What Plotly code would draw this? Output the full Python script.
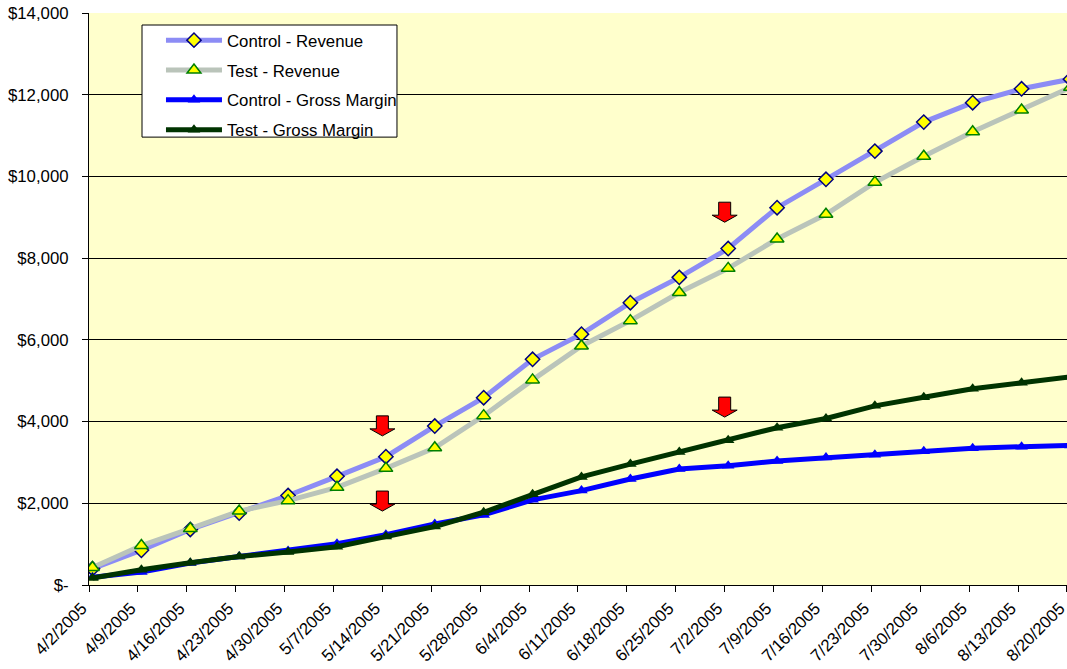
import pandas as pd
import plotly.graph_objects as go

dates = ["2005-04-02", "2005-04-09", "2005-04-16", "2005-04-23", "2005-04-30",
         "2005-05-07", "2005-05-14", "2005-05-21", "2005-05-28", "2005-06-04",
         "2005-06-11", "2005-06-18", "2005-06-25", "2005-07-02", "2005-07-09",
         "2005-07-16", "2005-07-23", "2005-07-30", "2005-08-06", "2005-08-13",
         "2005-08-20"]
date_labels = ["4/2/2005", "4/9/2005", "4/16/2005", "4/23/2005", "4/30/2005",
               "5/7/2005", "5/14/2005", "5/21/2005", "5/28/2005", "6/4/2005",
               "6/11/2005", "6/18/2005", "6/25/2005", "7/2/2005", "7/9/2005",
               "7/16/2005", "7/23/2005", "7/30/2005", "8/6/2005", "8/13/2005",
               "8/20/2005"]

control_revenue = [400, 850, 1360, 1760, 2190, 2660, 3140, 3890, 4585, 5525,
                   6140, 6910, 7530, 8235, 9235, 9930, 10620, 11330, 11805, 12145, 12380]
test_revenue = [430, 965, 1380, 1810, 2065, 2390, 2855, 3360, 4145, 5020,
                5850, 6470, 7160, 7750, 8470, 9075, 9855, 10495, 11095, 11625, 12180]
control_gm = [190, 320, 540, 700, 830, 1010, 1230, 1495, 1715, 2085,
              2310, 2595, 2840, 2920, 3035, 3120, 3190, 3275, 3345, 3385, 3415]
test_gm = [170, 375, 545, 695, 805, 935, 1185, 1430, 1780, 2220,
           2645, 2960, 3255, 3540, 3850, 4075, 4385, 4595, 4805, 4950, 5095]

y_ticks = [0, 2000, 4000, 6000, 8000, 10000, 12000, 14000]
y_labels = ["$-", "$2,000", "$4,000", "$6,000", "$8,000", "$10,000", "$12,000", "$14,000"]

arrow_dates = ["2005-05-14", "2005-05-14", "2005-07-02", "2005-07-02"]
arrow_tips = [3650, 1810, 8880, 4110]

x = pd.to_datetime(dates)
half_day = pd.Timedelta(hours=12)
tick_pos = x - half_day

FONT = "Liberation Sans, Arial, sans-serif"

fig = go.Figure()
fig.add_trace(go.Scatter(
    x=x, y=control_revenue, name="Control - Revenue", mode="lines+markers",
    line=dict(color="#8C8CF5", width=5),
    marker=dict(symbol="diamond", size=11, color="#FFFF00",
                line=dict(color="#000080", width=1.5)),
    legendgroup="a"))
fig.add_trace(go.Scatter(
    x=x, y=test_revenue, name="Test - Revenue", mode="lines+markers",
    line=dict(color="#BAC4BA", width=5),
    marker=dict(symbol="triangle-up", size=12, color="#FFFF00",
                line=dict(color="#008000", width=1.5)),
    legendgroup="b"))
fig.add_trace(go.Scatter(
    x=x, y=control_gm, name="Control - Gross Margin", mode="lines+markers",
    line=dict(color="#0000FF", width=5),
    marker=dict(symbol="triangle-up", size=11, color="#0000FF"),
    legendgroup="c"))
fig.add_trace(go.Scatter(
    x=x, y=test_gm, name="Test - Gross Margin", mode="lines+markers",
    line=dict(color="#003300", width=5),
    marker=dict(symbol="triangle-up", size=11, color="#003300"),
    legendgroup="d"))

shapes = []
for d, tip in zip(arrow_dates, arrow_tips):
    anchor = (pd.Timestamp(d) - half_day).strftime("%Y-%m-%d %H:%M:%S")
    shapes.append(dict(
        type="path", xref="x", yref="y", xsizemode="pixel", ysizemode="pixel",
        xanchor=anchor, yanchor=tip,
        path="M0,0 L-12.5,7 L-6,7 L-6,20 L6,20 L6,7 L12.5,7 Z",
        fillcolor="#FF0000", line=dict(color="#000000", width=1), layer="above"))

# legend frame (white box with black border)
shapes.append(dict(type="rect", xref="paper", yref="paper",
                   x0=0.0542, x1=0.3149, y0=0.783, y1=0.979,
                   fillcolor="white", line=dict(color="black", width=1),
                   layer="above"))

fig.update_layout(
    width=1067, height=669,
    margin=dict(l=89, r=0, t=13, b=84, autoexpand=False),
    paper_bgcolor="white", plot_bgcolor="#FFFFCC",
    font=dict(family=FONT, size=16.8, color="black"),
    showlegend=True,
    legend=dict(x=0.0736, y=0.983, xanchor="left", yanchor="top",
                bgcolor="rgba(0,0,0,0)", borderwidth=0,
                font=dict(family=FONT, size=16.8, color="black"),
                itemwidth=56, tracegroupgap=5),
    shapes=shapes,
)
fig.update_xaxes(
    type="date", range=[tick_pos[0], tick_pos[-1] + pd.Timedelta(minutes=5)],
    tickvals=tick_pos, ticktext=date_labels, tickangle=-45, automargin=False,
    ticks="outside", ticklen=6, tickcolor="black", ticklabeloverflow="allow",
    ticklabelshift=-7,
    showline=True, linecolor="black", linewidth=1,
    showgrid=False, zeroline=False,
    tickfont=dict(family=FONT, size=16.8, color="black"))
fig.update_yaxes(
    range=[0, 14000], tickvals=y_ticks, ticktext=y_labels, automargin=False,
    ticks="outside", ticklen=6, tickcolor="black", ticklabelstandoff=10,
    showline=True, linecolor="black", linewidth=1,
    showgrid=True, gridcolor="black", gridwidth=1, zeroline=False,
    tickfont=dict(family=FONT, size=16.8, color="black"))

fig.write_html("out.html")
